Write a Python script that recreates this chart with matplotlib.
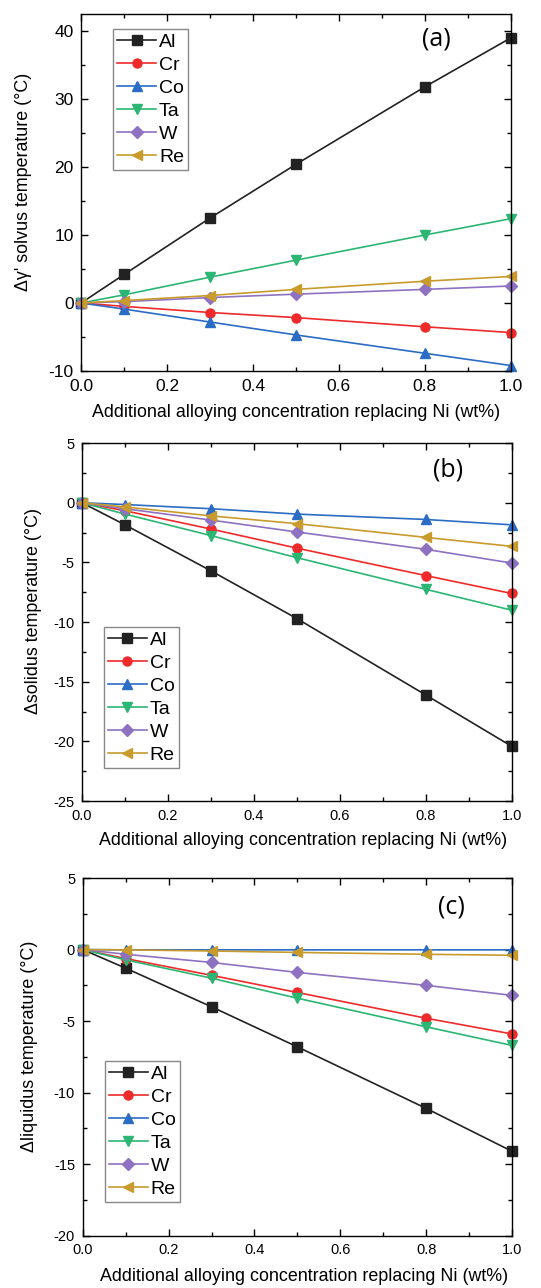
import matplotlib
matplotlib.use("Agg")
import matplotlib.pyplot as plt
from matplotlib.ticker import MultipleLocator, FormatStrFormatter

plt.rcParams["font.family"] = ["Liberation Sans", "DejaVu Sans"]
plt.rcParams["axes.unicode_minus"] = False

# x positions (wt%)
conc = [0.0, 0.1, 0.3, 0.5, 0.8, 1.0]
elements = ["Al", "Cr", "Co", "Ta", "W", "Re"]
colors = ["#222222", "#ee2a2a", "#2b6cc4", "#2bb673", "#8e71c1", "#c89b2c"]
markers = ["s", "o", "^", "v", "D", "<"]

# (a) gamma' solvus change
solvus = {
    "Al": [0, 4.2, 12.5, 20.4, 31.8, 39.0],
    "Cr": [0, -0.5, -1.4, -2.15, -3.5, -4.35],
    "Co": [0, -0.9, -2.8, -4.7, -7.4, -9.2],
    "Ta": [0, 1.2, 3.8, 6.3, 10.0, 12.4],
    "W": [0, 0.2, 0.8, 1.3, 2.0, 2.5],
    "Re": [0, 0.35, 1.1, 2.0, 3.2, 3.9],
}
# (b) solidus change
solidus = {
    "Al": [0, -1.85, -5.7, -9.7, -16.1, -20.4],
    "Cr": [0, -0.67, -2.2, -3.8, -6.1, -7.6],
    "Co": [0, -0.15, -0.5, -0.95, -1.4, -1.85],
    "Ta": [0, -0.95, -2.75, -4.6, -7.25, -9.0],
    "W": [0, -0.5, -1.45, -2.45, -3.9, -5.05],
    "Re": [0, -0.35, -1.1, -1.75, -2.9, -3.65],
}
# (c) liquidus change
liquidus = {
    "Al": [0, -1.3, -4.0, -6.8, -11.1, -14.1],
    "Cr": [0, -0.63, -1.8, -3.0, -4.8, -5.9],
    "Co": [0, -0.02, -0.02, -0.02, -0.02, -0.02],
    "Ta": [0, -0.72, -2.0, -3.4, -5.4, -6.7],
    "W": [0, -0.33, -0.9, -1.6, -2.5, -3.2],
    "Re": [0, -0.02, -0.1, -0.2, -0.33, -0.4],
}

xlabel = "Additional alloying concentration replacing Ni (wt%)"

panels = [
    # data, ylabel, ylim, ymajor, yminor, tag, tag pos, axes rect,
    # legend anchor, tick size, xlabel pos, ylabel x
    (solvus, "Δγ' solvus temperature (°C)", (-10, 42.5), 10, 5, "(a)", (0.828, 0.930),
     [0.150, 0.712, 0.794, 0.277], (0.075, 0.958), 12.5, (0.50, -0.117), -0.135),
    (solidus, "Δsolidus temperature (°C)", (-25, 5), 5, 2.5, "(b)", (0.852, 0.924),
     [0.1516, 0.378, 0.794, 0.278], (0.051, 0.486), 10.5, (0.515, -0.111), -0.114),
    (liquidus, "Δliquidus temperature (°C)", (-20, 5), 5, 2.5, "(c)", (0.86, 0.919),
     [0.1529, 0.0406, 0.7935, 0.2777], (0.052, 0.488), 10.5, (0.515, -0.115), -0.125),
]

fig = plt.figure(figsize=(5.41, 12.88), dpi=100)

for (data, ylabel, ylim, ymaj, ymin, tag, tagpos, rect, anchor, tsize,
     xlpos, ylx) in panels:
    ax = fig.add_axes(rect)
    for el, c, m in zip(elements, colors, markers):
        ax.plot(conc, data[el], color=c, marker=m, markersize=6.5, lw=1.2,
                label=el, clip_on=False)
    ax.set_xlim(0, 1)
    ax.set_ylim(*ylim)
    ax.xaxis.set_major_locator(MultipleLocator(0.2))
    ax.xaxis.set_minor_locator(MultipleLocator(0.1))
    ax.yaxis.set_major_locator(MultipleLocator(ymaj))
    ax.yaxis.set_minor_locator(MultipleLocator(ymin))
    ax.tick_params(which="both", direction="in", top=True, right=True,
                   labelsize=tsize, width=1, pad=5.5)
    ax.tick_params(which="major", length=5)
    ax.tick_params(which="minor", length=3)
    ax.xaxis.set_major_formatter(FormatStrFormatter("%.1f"))
    for s in ax.spines.values():
        s.set_linewidth(1.0)
    ax.set_xlabel(xlabel, fontsize=12.9, va="center")
    ax.xaxis.set_label_coords(*xlpos)
    ax.set_ylabel(ylabel, fontsize=12.9, va="center")
    ax.yaxis.set_label_coords(ylx, 0.53)
    ax.text(tagpos[0], tagpos[1], tag, transform=ax.transAxes, fontsize=18,
            family=["Open Sans", "DejaVu Sans"], ha="center", va="center")
    ax.legend(loc="upper left", bbox_to_anchor=anchor, fontsize=14,
              fancybox=False, edgecolor="#888888", framealpha=1,
              handlelength=2.0, labelspacing=0.28, borderpad=0.2,
              handletextpad=0.15, borderaxespad=0)

fig.savefig("out.png", dpi=100)
